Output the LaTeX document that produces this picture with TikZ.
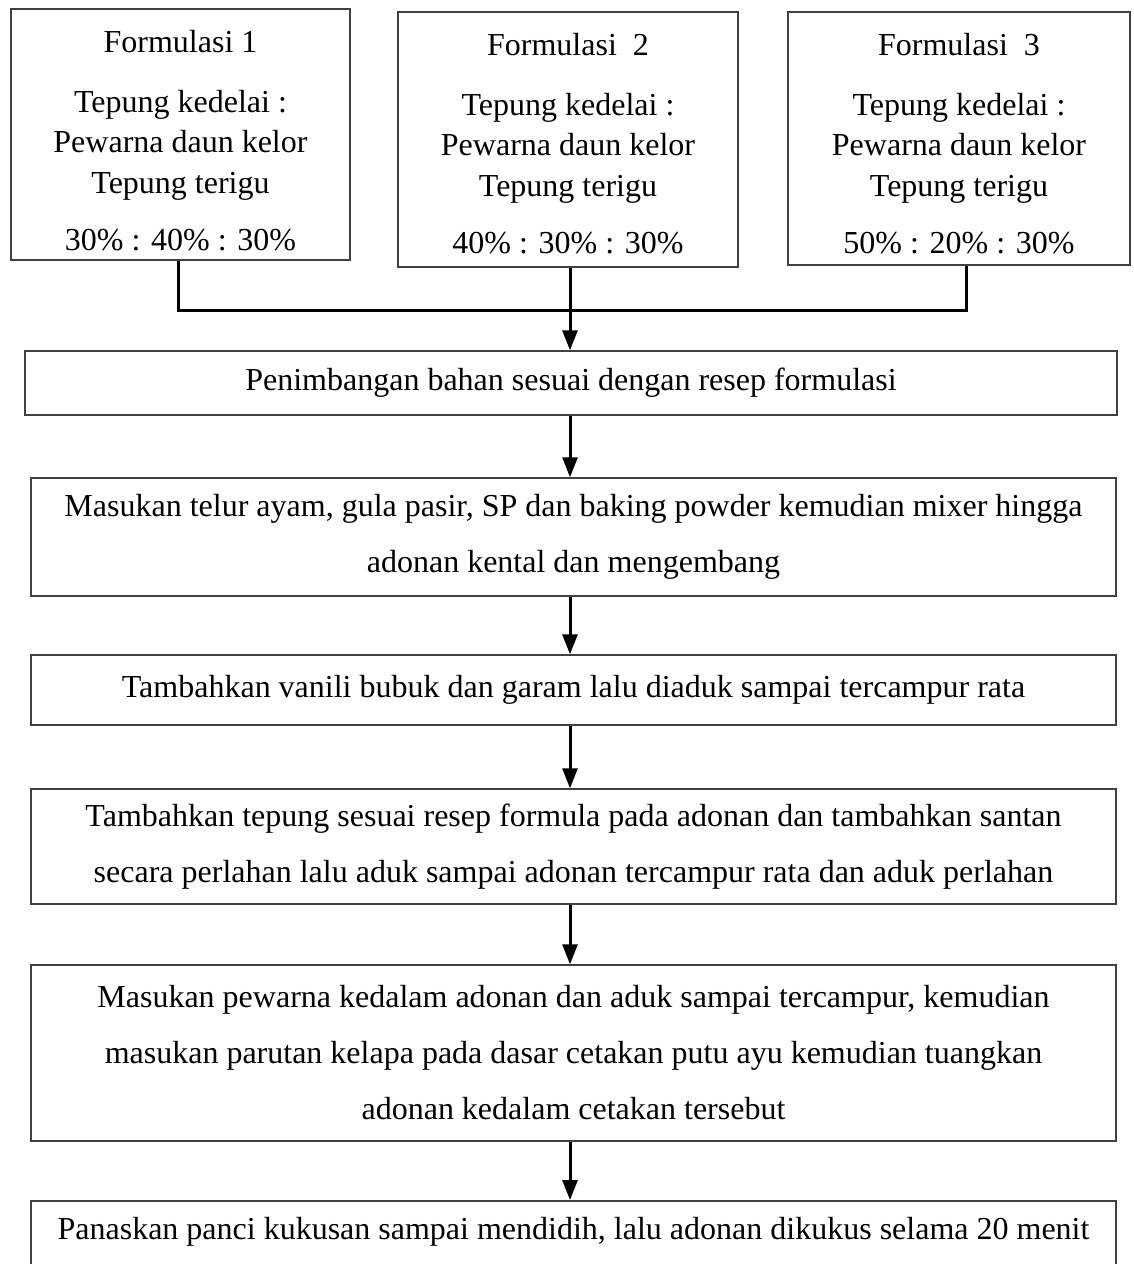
\documentclass[tikz,border=0pt]{standalone}
\usepackage{fontspec}
\setmainfont{Liberation Serif}
\usetikzlibrary{arrows.meta}
\tikzset{
  topbox/.style={draw=black!75, line width=1.5pt, inner sep=0pt},
  toptxt/.style={inner sep=0pt, align=center, font=\fontsize{32}{40.5}\selectfont},
  mainbox/.style={draw=black!75, line width=1.5pt, inner sep=0pt, align=center,
    minimum width=1085pt, font=\fontsize{32}{56}\selectfont},
  conn/.style={line width=3pt, black},
  arr/.style={line width=3pt, black, -{Triangle[width=15pt,length=20pt]}}
}
\begin{document}
\begin{tikzpicture}[x=1pt,y=-1pt]
\useasboundingbox (0,0) rectangle (1133,1264);
\clip (0,0) rectangle (1133,1264);
% top formulation boxes
\node[topbox, minimum width=339pt, minimum height=251pt] (f1) at (180.5,134.5) {};
\node[toptxt] (t1) at (180.5,141) {Formulasi 1\\[19pt]Tepung kedelai :\\Pewarna daun kelor\\Tepung terigu\\[17pt]30\% : 40\% : 30\%};
\node[topbox, minimum width=340pt, minimum height=255pt] (f2) at (568,139.5) {};
\node[toptxt] (t2) at (568,144) {Formulasi\ \ 2\\[19pt]Tepung kedelai :\\Pewarna daun kelor\\Tepung terigu\\[17pt]40\% : 30\% : 30\%};
\node[topbox, minimum width=342pt, minimum height=253pt] (f3) at (959,138.5) {};
\node[toptxt] (t3) at (959,144) {Formulasi\ \ 3\\[19pt]Tepung kedelai :\\Pewarna daun kelor\\Tepung terigu\\[17pt]50\% : 20\% : 30\%};
% process boxes
\node[mainbox, minimum width=1092pt, minimum height=64pt] (b2) at (571,383) {Penimbangan bahan sesuai dengan resep formulasi};
\node[mainbox, minimum height=118pt] (b3) at (573.5,537) {Masukan telur ayam, gula pasir, SP dan baking powder kemudian mixer hingga\\adonan kental dan mengembang};
\node[mainbox, minimum height=70pt] (b4) at (573.5,690) {Tambahkan vanili bubuk dan garam lalu diaduk sampai tercampur rata};
\node[mainbox, minimum height=115pt] (b5) at (573.5,846.5) {Tambahkan tepung sesuai resep formula pada adonan dan tambahkan santan\\secara perlahan lalu aduk sampai adonan tercampur rata dan aduk perlahan};
\node[mainbox, minimum height=176pt] (b6) at (573.5,1053) {Masukan pewarna kedalam adonan dan aduk sampai tercampur, kemudian\\masukan parutan kelapa pada dasar cetakan putu ayu kemudian tuangkan\\adonan kedalam cetakan tersebut};
\node[mainbox, minimum height=80pt, anchor=north] (b7) at (573.5,1200) {\raisebox{0pt}[\height][\dimexpr\depth+18pt\relax]{Panaskan panci kukusan sampai mendidih, lalu adonan dikukus selama 20 menit}};
% connectors
\coordinate (jl) at (178,310);
\coordinate (jr) at (966,310);
\coordinate (ax) at (570,0);
\draw[conn] (f1.south -| jl) -- (jl) -- (jr) -- (f3.south -| jr);
\draw[arr] (f2.south -| ax) -- (b2.north -| ax);
\draw[arr] (b2.south -| ax) -- (b3.north -| ax);
\draw[arr] (b3.south -| ax) -- (b4.north -| ax);
\draw[arr] (b4.south -| ax) -- (b5.north -| ax);
\draw[arr] (b5.south -| ax) -- (b6.north -| ax);
\draw[arr] (b6.south -| ax) -- (b7.north -| ax);
\end{tikzpicture}
\end{document}
